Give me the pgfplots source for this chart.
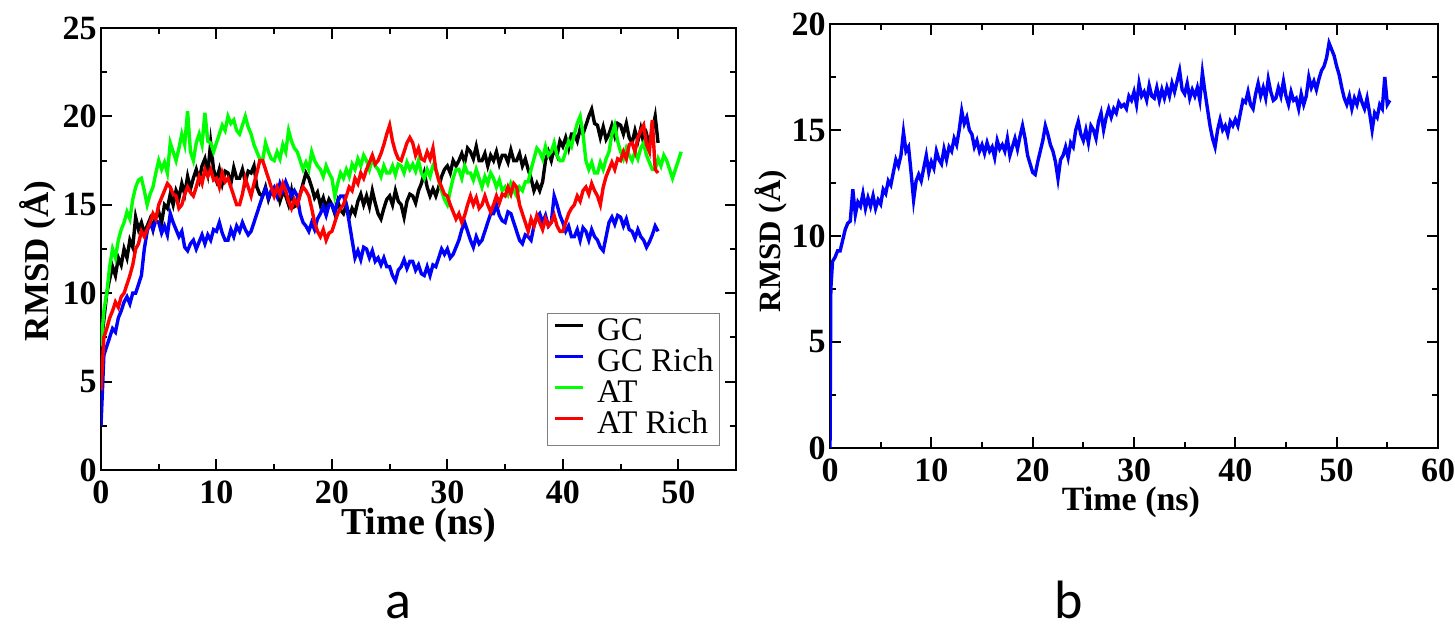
\documentclass[border=0pt]{standalone}
\usepackage{pgfplots}
\pgfplotsset{compat=1.18}
\usepackage{pgfplotstable}
\usepackage{fontspec}
\setmainfont{Liberation Serif}
\newfontfamily\carlito{Carlito}

\pgfplotstableread{
t gc gcr at atr
0 7.0 2.5 7.0 4.5
0.25 8.5 6.5 9.0 7.5
0.5 10.0 7.0 10.0 8.0
0.75 10.8 7.5 11.5 8.6
1 11.5 8.0 12.5 9.0
1.25 11.0 7.8 12.0 9.5
1.5 12.0 8.6 13.0 9.2
1.75 11.6 9.0 13.6 9.8
2 12.5 9.5 14.0 10.0
2.25 12.0 9.8 14.6 10.5
2.5 13.0 9.4 14.2 11.0
2.75 12.6 10.0 15.3 11.6
3 14.3 10.0 16.0 12.5
3.25 13.6 10.5 16.4 12.8
3.5 14.0 11.0 16.5 13.5
3.75 13.4 12.5 15.8 13.2
4 13.8 13.5 15.0 13.6
4.25 14.2 14.0 15.6 14.0
4.5 13.6 13.6 16.0 14.5
4.75 14.4 14.1 16.8 14.2
5 14.6 14.0 17.5 15.0
5.25 14.0 13.4 17.0 15.4
5.5 15.0 13.8 17.4 15.8
5.75 14.8 13.3 16.8 16.2
6 15.6 14.5 18.5 16.0
6.25 15.0 14.0 18.0 15.6
6.5 15.8 13.6 17.5 15.5
6.75 15.4 13.2 18.2 14.8
7 16.2 13.5 19.0 15.0
7.25 15.6 12.6 18.4 15.6
7.5 16.6 12.4 20.3 16.0
7.75 15.9 12.8 18.0 15.7
8 16.5 13.0 17.5 15.5
8.25 17.0 12.5 18.5 16.0
8.5 16.4 12.9 19.0 16.6
8.75 17.2 13.3 18.4 16.2
9 17.6 12.8 20.2 17.0
9.25 16.8 13.3 18.6 16.6
9.5 18.5 13.0 18.5 17.0
9.75 17.0 13.6 18.0 16.4
10 16.4 13.5 18.5 16.5
10.25 17.0 14.0 19.0 16.0
10.5 16.2 13.4 19.5 16.8
10.75 16.9 13.0 19.2 16.3
11 16.8 13.0 20.0 16.5
11.25 16.2 13.6 19.6 16.0
11.5 17.1 13.2 19.8 15.5
11.75 16.5 13.8 19.2 15.0
12 16.5 13.5 19.0 15.0
12.25 17.0 14.0 19.5 15.6
12.5 16.3 13.6 20.0 16.5
12.75 16.9 13.3 19.4 16.0
13 16.8 13.5 19.0 15.5
13.25 17.2 14.0 18.4 16.2
13.5 16.0 14.5 18.0 16.8
13.75 15.6 15.0 17.6 17.5
14 15.5 15.5 17.5 17.5
14.25 16.0 15.9 18.5 17.0
14.5 15.3 15.4 18.0 16.5
14.75 15.8 15.8 17.6 16.0
15 15.5 16.0 17.5 15.5
15.25 15.9 15.5 18.0 16.0
15.5 15.2 16.2 17.6 15.6
15.75 15.7 15.8 18.4 16.2
16 15.5 16.3 18.0 15.8
16.25 15.0 15.9 19.2 15.2
16.5 15.8 15.5 18.6 14.8
16.75 14.9 15.8 18.2 15.3
17 15.0 15.5 18.0 15.0
17.25 15.6 14.5 17.5 15.6
17.5 16.2 14.0 17.0 16.0
17.75 16.8 13.8 17.4 15.8
18 16.5 13.5 17.0 15.5
18.25 16.0 14.0 18.0 14.8
18.5 15.4 13.6 17.5 14.0
18.75 15.7 14.2 17.2 13.5
19 15.0 14.5 17.0 13.2
19.25 15.4 14.9 16.6 13.6
19.5 14.8 14.4 17.2 13.0
19.75 15.3 15.0 16.8 13.4
20 15.0 15.0 16.5 13.5
20.25 14.5 14.6 15.5 14.0
20.5 15.2 15.2 16.2 14.5
20.75 14.7 15.5 16.8 14.8
21 14.5 15.5 16.5 15.0
21.25 15.0 15.0 17.0 15.5
21.5 14.3 14.0 16.6 16.0
21.75 14.8 13.0 17.3 15.8
22 14.5 12.0 17.0 16.5
22.25 15.2 12.4 17.6 16.2
22.5 15.6 11.9 17.2 16.8
22.75 15.0 12.6 17.8 16.5
23 15.5 12.5 17.5 17.0
23.25 14.9 12.0 17.0 17.4
23.5 15.8 12.4 17.6 17.8
23.75 15.1 11.8 17.2 17.3
24 14.5 12.0 17.0 17.5
24.25 14.2 11.6 16.6 17.9
24.5 14.8 12.0 17.2 18.4
24.75 15.3 11.5 16.8 19.0
25 15.5 11.5 16.8 19.5
25.25 15.0 11.0 17.2 18.6
25.5 15.8 10.7 16.7 18.0
25.75 15.2 11.3 17.3 17.6
26 15.0 11.5 17.2 17.5
26.25 14.3 11.9 16.8 18.0
26.5 15.2 11.4 17.4 18.5
26.75 15.6 11.8 17.0 18.8
27 15.5 11.8 17.3 18.5
27.25 15.1 11.3 16.9 17.8
27.5 15.8 11.6 17.5 18.2
27.75 16.2 11.1 16.8 17.6
28 16.8 11.0 16.5 17.5
28.25 16.0 11.5 17.0 18.0
28.5 15.5 11.0 16.6 17.6
28.75 15.9 11.6 17.2 18.2
29 15.5 11.5 17.0 17.0
29.25 16.0 12.0 16.4 16.4
29.5 16.6 12.5 15.8 16.0
29.75 17.0 12.2 15.3 15.6
30 17.2 12.5 15.0 15.5
30.25 16.8 12.0 15.8 15.0
30.5 17.5 12.2 16.5 14.6
30.75 17.2 12.6 17.0 14.2
31 17.5 13.0 17.0 14.5
31.25 17.9 13.6 16.5 14.0
31.5 17.4 14.0 17.2 14.4
31.75 18.2 13.5 16.8 15.0
32 18.0 13.0 16.8 15.5
32.25 17.6 12.6 16.4 15.0
32.5 18.3 13.2 17.0 15.4
32.75 17.5 12.8 16.5 14.8
33 17.5 13.0 16.0 15.0
33.25 17.9 13.5 16.6 15.5
33.5 17.2 14.0 16.2 15.0
33.75 17.8 14.5 16.8 14.6
34 17.5 14.5 16.5 15.0
34.25 18.0 15.0 16.0 15.5
34.5 17.3 14.4 16.4 15.1
34.75 17.8 14.1 15.8 15.6
35 17.8 14.0 16.0 15.5
35.25 17.4 14.6 15.6 16.0
35.5 18.1 14.5 16.2 15.6
35.75 17.5 14.0 15.8 16.2
36 17.5 13.5 15.5 16.0
36.25 17.9 13.0 16.0 15.0
36.5 17.2 12.8 15.8 14.5
36.75 17.6 13.3 16.3 14.0
37 17.0 13.2 16.3 13.5
37.25 16.5 13.0 17.0 14.2
37.5 15.8 13.8 17.6 13.8
37.75 16.2 14.3 18.2 14.4
38 15.8 14.5 18.0 14.0
38.25 16.3 14.0 17.6 13.6
38.5 17.5 14.4 18.3 14.2
38.75 18.0 13.8 17.8 13.8
39 17.5 14.0 18.0 14.0
39.25 18.2 15.5 18.5 14.4
39.5 17.8 15.0 17.8 13.8
39.75 18.6 14.4 17.5 13.5
40 18.3 14.0 17.5 13.5
40.25 18.8 13.5 18.0 14.0
40.5 18.2 13.8 18.6 14.5
40.75 19.0 13.2 18.3 14.8
41 19.0 13.2 19.0 15.0
41.25 18.6 13.6 19.6 15.5
41.5 19.3 13.0 20.0 15.2
41.75 19.0 13.7 19.0 15.8
42 19.5 13.5 17.5 16.0
42.25 20.0 13.0 17.0 15.6
42.5 20.4 13.6 17.4 16.2
42.75 19.6 13.2 16.8 15.8
43 19.5 13.0 16.8 15.5
43.25 18.8 12.6 17.4 15.0
43.5 19.4 12.4 17.0 16.0
43.75 18.7 13.2 17.6 16.6
44 19.0 14.0 18.0 17.0
44.25 19.5 14.3 19.0 17.4
44.5 18.9 13.9 19.5 17.0
44.75 19.6 14.4 18.6 17.6
45 19.5 14.3 18.0 17.5
45.25 19.0 13.8 17.6 18.0
45.5 19.6 14.2 18.2 17.6
45.75 18.8 13.6 17.8 18.4
46 18.5 13.5 17.5 18.5
46.25 19.2 13.1 18.0 18.0
46.5 18.6 13.6 17.6 18.8
46.75 19.3 13.2 18.2 19.2
47 18.5 13.0 18.5 19.5
47.25 19.0 12.6 17.8 18.4
47.5 18.4 12.9 17.4 18.0
47.75 19.2 13.3 17.0 19.8
48 20.0 13.8 17.0 17.0
48.25 18.5 13.5 17.6 16.8
48.5 nan nan 17.2 nan
48.75 nan nan 17.8 nan
49 nan nan 17.5 nan
49.25 nan nan 17.0 nan
49.5 nan nan 16.5 nan
49.75 nan nan 17.0 nan
50 nan nan 17.5 nan
50.25 nan nan 18.0 nan
}\dataA

\pgfplotstableread{
t v
0 0.0
0.08 7.5
0.25 8.8
0.5 9.0
0.75 9.3
1 9.3
1.25 9.8
1.5 10.3
1.75 10.6
2 10.7
2.25 12.2
2.5 11.0
2.75 11.6
3 11.4
3.25 12.0
3.5 11.3
3.75 11.8
4 11.4
4.25 11.9
4.5 11.3
4.75 11.7
5 11.5
5.25 12.2
5.5 12.0
5.75 12.6
6 12.4
6.25 13.0
6.5 13.6
6.75 13.3
7 13.8
7.25 14.9
7.5 14.0
7.75 14.2
8 13.0
8.25 11.7
8.5 12.6
8.75 12.9
9 12.6
9.25 13.2
9.5 13.8
9.75 13.0
10 13.5
10.25 13.2
10.5 14.0
10.75 13.6
11 13.4
11.25 14.1
11.5 13.6
11.75 14.2
12 14.0
12.25 14.6
12.5 14.3
12.75 15.0
13 15.9
13.25 15.3
13.5 15.6
13.75 15.0
14 14.8
14.25 14.2
14.5 14.5
14.75 14.0
15 14.3
15.25 13.9
15.5 14.4
15.75 14.0
16 14.2
16.25 13.7
16.5 14.5
16.75 14.1
17 14.3
17.25 14.0
17.5 14.6
17.75 13.8
18 14.2
18.25 14.6
18.5 14.1
18.75 14.7
19 15.2
19.25 14.6
19.5 13.8
19.75 13.4
20 13.0
20.25 12.9
20.5 13.5
20.75 14.0
21 14.5
21.25 15.2
21.5 14.8
21.75 14.3
22 14.0
22.25 13.5
22.5 12.7
22.75 13.6
23 13.8
23.25 14.2
23.5 13.7
23.75 14.4
24 14.2
24.25 15.0
24.5 15.4
24.75 14.8
25 14.5
25.25 15.0
25.5 14.4
25.75 15.2
26 15.0
26.25 14.6
26.5 15.4
26.75 15.8
27 15.0
27.25 15.6
27.5 16.0
27.75 15.6
28 16.0
28.25 15.8
28.5 16.3
28.75 16.1
29 16.2
29.25 16.0
29.5 16.6
29.75 16.4
30 16.8
30.25 16.2
30.5 17.2
30.75 16.6
31 16.8
31.25 16.4
31.5 17.1
31.75 16.6
32 16.5
32.25 17.0
32.5 16.4
32.75 16.9
33 16.5
33.25 17.0
33.5 16.6
33.75 17.2
34 16.8
34.25 17.3
34.5 17.8
34.75 16.9
35 16.7
35.25 17.2
35.5 16.5
35.75 16.9
36 16.6
36.25 17.0
36.5 16.4
36.75 17.7
37 16.8
37.25 16.0
37.5 15.2
37.75 14.6
38 14.2
38.25 15.0
38.5 15.5
38.75 15.0
39 15.2
39.25 14.8
39.5 15.4
39.75 15.2
40 15.5
40.25 15.2
40.5 15.8
40.75 16.4
41 16.3
41.25 16.8
41.5 16.2
41.75 16.0
42 16.7
42.25 17.2
42.5 16.6
42.75 17.0
43 16.5
43.25 17.4
43.5 16.8
43.75 16.4
44 16.5
44.25 17.0
44.5 16.6
44.75 17.3
45 16.6
45.25 16.2
45.5 16.8
45.75 16.4
46 16.5
46.25 16.0
46.5 16.7
46.75 16.2
47 16.6
47.25 17.5
47.5 17.0
47.75 17.3
48 16.9
48.25 17.4
48.5 17.8
48.75 18.0
49 18.4
49.25 19.1
49.5 18.8
49.75 18.5
50 18.0
50.25 17.6
50.5 17.0
50.75 16.5
51 16.2
51.25 16.6
51.5 16.0
51.75 16.5
52 16.2
52.25 16.7
52.5 16.3
52.75 16.0
53 16.5
53.25 15.8
53.5 15.0
53.75 15.8
54 15.6
54.25 16.2
54.5 16.0
54.75 17.5
55 16.2
55.25 16.4
}\dataB

\pgfplotsset{
  myaxis/.style={
    scale only axis,
    axis line style={line width=1.3pt},
    every tick/.style={black, line width=1pt},
    major tick length=5.5pt,
    minor tick length=3pt,
    tick align=inside,
    xtick pos=both, ytick pos=both,
    minor x tick num=1,
    minor y tick num=1,
    tick label style={font=\fontsize{17}{17}\selectfont\bfseries},
    yticklabel style={inner xsep=2pt},
    xticklabel style={inner ysep=5pt},
    clip=true,
  },
}

\begin{document}
\begin{tikzpicture}
\path[use as bounding box] (0pt,0pt) rectangle (727.5pt,312pt);

% Panel a
\begin{axis}[myaxis,
  at={(50.5pt,77pt)}, anchor=south west,
  width=317.5pt, height=221pt,
  xmin=0, xmax=55, ymin=0, ymax=25,
  xtick={0,10,20,30,40,50},
  xticklabels={0,10,20,30,40,50},
  ytick={0,5,10,15,20,25},
  yticklabels={0,5,10,15,20,25},
  xlabel={Time (ns)},
  ylabel={RMSD (Å)},
  xlabel style={font=\fontsize{19}{19}\selectfont\bfseries, at={(rel axis cs:0.5,-0.126)}, anchor=center},
  ylabel style={font=\fontsize{17.5}{17.5}\selectfont\bfseries, at={(rel axis cs:-0.099,0.473)}, anchor=center},
  legend style={at={(rel axis cs:0.975,0.355)}, anchor=north east,
    draw=gray, line width=0.6pt, fill=white,
    inner xsep=3pt, inner ysep=2pt,
    font=\fontsize{16.5}{18}\selectfont,
    nodes={inner sep=0pt, text height=11.5pt, text depth=4pt},
    /tikz/every odd column/.append style={column sep=6.5pt}},
  legend cell align=left,
  legend image code/.code={\draw[#1, line width=1.3pt] (0pt,3.8pt) -- (14pt,3.8pt);},
]
\addplot[black, line width=1.7pt] table[x=t, y=gc] {\dataA};
\addplot[blue, line width=1.7pt] table[x=t, y=gcr] {\dataA};
\addplot[green, line width=1.7pt] table[x=t, y=at] {\dataA};
\addplot[red, line width=1.7pt] table[x=t, y=atr] {\dataA};
\legend{GC, GC Rich, AT, AT Rich}
\end{axis}

% Panel b
\begin{axis}[myaxis,
  at={(415pt,88pt)}, anchor=south west,
  width=304pt, height=212pt,
  xmin=0, xmax=60, ymin=0, ymax=20,
  xtick={0,10,20,30,40,50,60},
  xticklabels={0,10,20,30,40,50,60},
  ytick={0,5,10,15,20},
  yticklabels={0,5,10,15,20},
  xlabel={Time (ns)},
  ylabel={RMSD (Å)},
  xlabel style={font=\fontsize{17}{17}\selectfont\bfseries, at={(rel axis cs:0.495,-0.127)}, anchor=center},
  ylabel style={font=\fontsize{15.5}{15.5}\selectfont\bfseries, at={(rel axis cs:-0.097,0.488)}, anchor=center},
]
\addplot[blue, line width=1.7pt] table[x=t, y=v] {\dataB};
\end{axis}

\node[font=\carlito\fontsize{27}{27}\selectfont, anchor=base, inner sep=0pt] at (199pt,2.5pt) {a};
\node[font=\carlito\fontsize{27}{27}\selectfont, anchor=base, inner sep=0pt] at (534.5pt,2.5pt) {b};
\end{tikzpicture}
\end{document}
